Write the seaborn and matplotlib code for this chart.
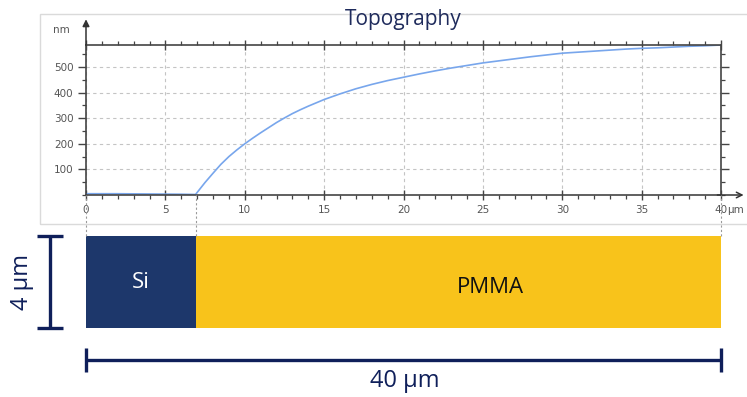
import matplotlib
matplotlib.use("Agg")
import matplotlib.pyplot as plt
from matplotlib.patches import Rectangle
from matplotlib.ticker import MultipleLocator
import pandas as pd
import seaborn as sns

# Surface profile across the Si / PMMA step
x_um = [0, 2, 4, 6, 6.9, 7.5, 8, 8.5, 9, 9.5, 10, 10.5, 11, 11.5, 12, 12.5,
        13, 13.5, 14, 14.5, 15, 16, 17, 18, 19, 20, 21, 22, 23, 24, 25, 26,
        27, 28, 29, 30, 31, 32, 33, 34, 35, 36, 37, 38, 39, 40]
height_nm = [5, 5, 4, 3, 2, 49, 85, 120, 150, 176, 200, 222, 243, 263, 283, 301,
             318, 333, 347, 360, 373, 395, 415, 432, 447, 460, 473, 485, 496, 506, 516, 524,
             532, 540, 547, 554, 558, 562, 566, 570, 573, 575, 578, 581, 583, 586]

# Layer stack below the profile
layer_names = ["Si", "PMMA"]
layer_start_um = [0, 6.9]
layer_end_um = [6.9, 40]
layer_colors = ["#1d376b", "#f8c31b"]
layer_text_colors = ["white", "#111111"]
layer_thickness_um = 4
scan_length_um = 40

x_ticks = [0, 5, 10, 15, 20, 25, 30, 35, 40]
y_ticks = [100, 200, 300, 400, 500]

navy = "#0f1f5a"
axis_grey = "#444444"
label_grey = "#555555"

sns.set_theme(style="white")
plt.rcParams["font.family"] = ["DejaVu Sans"]

W, H = 747, 397
fig = plt.figure(figsize=(W / 100, H / 100), dpi=100)


def fx(px):
    return px / W


def fy(py):
    return 1 - py / H


# light frame around the profile panel
fig.patches.append(Rectangle((fx(40), fy(224)), fx(760) - fx(40), fy(14) - fy(224),
                             transform=fig.transFigure, fill=False,
                             edgecolor="#dadada", lw=1.0, zorder=0))

# ---- profile axes
ax = fig.add_axes([fx(86), fy(195), fx(721) - fx(86), fy(45) - fy(195)])
df = pd.DataFrame({"x": x_um, "h": height_nm})
sns.lineplot(data=df, x="x", y="h", ax=ax, color="#78a6ec", lw=1.2, sort=False)
ax.set_xlim(0, scan_length_um)
ax.set_ylim(0, 586)
ax.set_xlabel("")
ax.set_ylabel("")

ax.xaxis.set_minor_locator(MultipleLocator(1))
ax.yaxis.set_minor_locator(MultipleLocator(50))
ax.set_xticks(x_ticks)
ax.set_yticks(y_ticks)
ax.set_xticklabels([str(t) for t in x_ticks])
ax.set_yticklabels([str(t) for t in y_ticks])

for s in ax.spines.values():
    s.set_color(axis_grey)
    s.set_linewidth(1.2)

ax.tick_params(axis="x", which="major", direction="inout", length=7, width=1,
               color=axis_grey, top=True, bottom=True, labelsize=7.5,
               labelcolor=label_grey, pad=4)
ax.tick_params(axis="x", which="minor", direction="out", length=3, width=0.9,
               color=axis_grey, top=True, bottom=True)
ax.tick_params(axis="y", which="major", direction="out", length=6, width=1,
               color=axis_grey, left=True, right=True, labelsize=7.5,
               labelcolor=label_grey, pad=3)
ax.tick_params(axis="y", which="minor", direction="out", length=3, width=0.9,
               color=axis_grey, left=True, right=True)
ax.grid(True, which="major", color="#c4c4c4", lw=0.8, ls=(0, (3, 3)))
ax.set_axisbelow(True)

# axis arrows and units
ax.annotate("", xy=(0, 1.19), xytext=(0, 0.98), xycoords="axes fraction",
            arrowprops=dict(arrowstyle="-|>", color="#333333", lw=1.1,
                            mutation_scale=10), annotation_clip=False)
ax.annotate("", xy=(1.04, 0), xytext=(0.99, 0), xycoords="axes fraction",
            arrowprops=dict(arrowstyle="->", color="#333333", lw=1.1,
                            mutation_scale=10), annotation_clip=False)
ax.text(-0.038, 1.10, "nm", transform=ax.transAxes, ha="center", va="center",
        fontsize=7.5, color=label_grey)
ax.text(fx(727), fy(210), "µm", transform=fig.transFigure, ha="left", va="center",
        fontsize=7.5, color=label_grey)

fig.text(fx(403), fy(20), "Topography", ha="center", va="center",
         fontsize=15, color="#1f2b5c", family="Open Sans")

# ---- layer stack axes, sharing the lateral scale
axl = fig.add_axes([fx(86), fy(328), fx(721) - fx(86), fy(236) - fy(328)], sharex=ax)
axl.set_ylim(0, layer_thickness_um)
axl.axis("off")
widths = [e - s for s, e in zip(layer_start_um, layer_end_um)]
axl.bar(layer_start_um, layer_thickness_um, width=widths, align="edge",
        color=layer_colors, edgecolor="none")
text_x = [(layer_start_um[0] + layer_end_um[0]) / 2, 25.5]
text_y = [layer_thickness_um * 0.5, layer_thickness_um * 0.44]
for name, tx, ty, c in zip(layer_names, text_x, text_y, layer_text_colors):
    axl.text(tx, ty, name, ha="center", va="center", fontsize=16,
             color=c, family="Open Sans")

# dashed guides from the profile down to the layer boundaries
bounds = [layer_start_um[0]] + layer_end_um
axl.vlines(bounds, layer_thickness_um, layer_thickness_um * 1.45,
           colors="#9a9a9a", lw=0.8, linestyles=(0, (2, 2)), clip_on=False)

# thickness scale bar
to_um_x = scan_length_um / (721 - 86)
to_um_y = layer_thickness_um / (328 - 236)
bx = -(86 - 50) * to_um_x
cap = 13 * to_um_x
axl.plot([bx, bx], [0, layer_thickness_um], color=navy, lw=2.4, clip_on=False,
         solid_capstyle="butt")
for yy in [0, layer_thickness_um]:
    axl.plot([bx - cap, bx + cap], [yy, yy], color=navy, lw=2.4, clip_on=False,
             solid_capstyle="butt")
axl.text(-(86 - 22) * to_um_x, layer_thickness_um / 2, f"{layer_thickness_um} µm",
         rotation=90, ha="center", va="center", fontsize=17, color=navy,
         family="Open Sans")

# length scale bar
by = -(360 - 328) * to_um_y
vcap = 12 * to_um_y
axl.plot([0, scan_length_um], [by, by], color=navy, lw=2.4, clip_on=False,
         solid_capstyle="butt")
for xx in [0, scan_length_um]:
    axl.plot([xx, xx], [by - vcap, by + vcap], color=navy, lw=2.4, clip_on=False,
             solid_capstyle="butt")
axl.text(scan_length_um / 2 + 1 * to_um_x, -(381 - 328) * to_um_y,
         f"{scan_length_um} µm", ha="center", va="center", fontsize=17,
         color=navy, family="Open Sans")

fig.savefig("out.png", dpi=100)
